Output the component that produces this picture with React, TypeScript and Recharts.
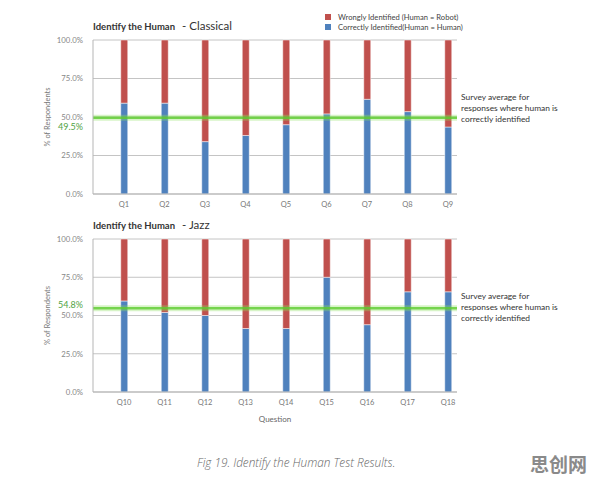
import React from "react";
import { BarChart, Bar, XAxis, YAxis, CartesianGrid, ReferenceLine } from "recharts";

const classicalQuestions = ["Q1", "Q2", "Q3", "Q4", "Q5", "Q6", "Q7", "Q8", "Q9"];
const classicalCorrect = [59, 59, 34, 38, 45, 52, 61.5, 53.5, 43.5];
const classicalAverage = 49.5;

const jazzQuestions = ["Q10", "Q11", "Q12", "Q13", "Q14", "Q15", "Q16", "Q17", "Q18"];
const jazzCorrect = [59.5, 52, 50, 41.5, 41.5, 75, 44, 65.5, 65.5];
const jazzAverage = 54.8;

const yTicks = [0, 25, 50, 75, 100];
const legendItems = [
  { label: "Wrongly Identified (Human = Robot)", color: "#c0504d" },
  { label: "Correctly Identified(Human = Human)", color: "#4f81bd" },
];
const annotationLines = ["Survey average for", "responses where human is", "correctly identified"];

const FONT = "Lato, 'Open Sans', sans-serif";
const BLUE = "#4f81bd";
const RED = "#c0504d";

function buildRows(questions: string[], correct: number[]) {
  return questions.map((q, i) => ({ idx: i, q, correct: correct[i], wrong: 100 - correct[i] }));
}

type PanelProps = {
  top: number;
  subtitle: string;
  questions: string[];
  correct: number[];
  average: number;
  avgDy: number;
  showLegend?: boolean;
  showXLabel?: boolean;
};

function Panel({ top, subtitle, questions, correct, average, avgDy, showLegend, showXLabel }: PanelProps) {
  const rows = buildRows(questions, correct);
  const xHeight = showXLabel ? 34 : 21;
  const plotH = showXLabel ? 153 : 154;
  const height = 40 + plotH + xHeight;

  const avgLabel = (props: any) => {
    const vb = props.viewBox || {};
    return (
      <text
        x={vb.x - 10}
        y={vb.y + avgDy}
        textAnchor="end"
        dominantBaseline="central"
        fill="#4fa343"
        fontSize={9}
        fontFamily={FONT}
      >
        {average.toFixed(1)}%
      </text>
    );
  };

  return (
    <div style={{ position: "absolute", left: 0, top, width: 596, height }}>
      <BarChart
        width={596}
        height={height}
        data={rows}
        margin={{ top: 40, right: 139, left: 33, bottom: 0 }}
        style={{ fontFamily: FONT }}
      >
        <CartesianGrid vertical={false} stroke="#c4c4c4" />
        <XAxis
          type="number"
          dataKey="idx"
          domain={[-0.7655, 8.222]}
          ticks={[0, 1, 2, 3, 4, 5, 6, 7, 8]}
          allowDataOverflow
          tickFormatter={(i: number) => questions[i]}
          tickLine={false}
          tickSize={0}
          tickMargin={8}
          axisLine={{ stroke: "#b5b5b5" }}
          tick={{ fontSize: 7.5, fill: "#777" }}
          height={xHeight}
          label={
            showXLabel
              ? { value: "Question", position: "insideBottom", offset: 4, fontSize: 8, fill: "#666" }
              : undefined
          }
        />
        <YAxis
          domain={[0, 100]}
          ticks={yTicks}
          tickFormatter={(v: number) => v.toFixed(1) + "%"}
          width={60}
          tickLine={false}
          tickSize={0}
          tickMargin={10}
          axisLine={{ stroke: "#b5b5b5" }}
          tick={{ fontSize: 7.8, fill: "#888" }}
          label={{
            value: "% of Respondents",
            angle: -90,
            position: "insideLeft",
            offset: 14,
            fontSize: 7.5,
            fill: "#777",
            style: { textAnchor: "middle" },
          }}
        />
        <Bar dataKey="correct" stackId="a" fill={BLUE} barSize={7} stroke="#fff" strokeWidth={0.5} isAnimationActive={false} />
        <Bar dataKey="wrong" stackId="a" fill={RED} barSize={7} stroke="#fff" strokeWidth={0.5} isAnimationActive={false} />
        <ReferenceLine y={average} stroke="#8be05e" strokeWidth={6} strokeOpacity={0.35} />
        <ReferenceLine y={average} stroke="#5ccc2e" strokeWidth={2.5} strokeOpacity={0.8} label={avgLabel} />
      </BarChart>

      <div
        style={{
          position: "absolute",
          left: 93,
          top: 17,
          fontFamily: FONT,
          color: "#333",
          whiteSpace: "nowrap",
          lineHeight: "14px",
        }}
      >
        <span style={{ fontSize: 9.5, fontWeight: 700 }}>Identify the Human</span>
        <span style={{ fontSize: 11.5, marginLeft: 7 }}>- {subtitle}</span>
      </div>

      {showLegend && (
        <div style={{ position: "absolute", left: 325, top: 12, fontFamily: FONT, fontSize: 7.6, color: "#444" }}>
          {legendItems.map((it) => (
            <div key={it.label} style={{ display: "flex", alignItems: "center", height: 10, whiteSpace: "nowrap" }}>
              <span style={{ width: 6, height: 6, background: it.color, marginRight: 7, display: "inline-block" }} />
              {it.label}
            </div>
          ))}
        </div>
      )}

      <div
        style={{
          position: "absolute",
          left: 461,
          top: 92,
          fontFamily: FONT,
          fontSize: 8.4,
          lineHeight: "11.2px",
          color: "#333",
          whiteSpace: "nowrap",
        }}
      >
        {annotationLines.map((l) => (
          <div key={l}>{l}</div>
        ))}
      </div>
    </div>
  );
}

export default function App() {
  return (
    <div style={{ position: "absolute", left: 0, top: 0, width: 596, height: 478, background: "#fff", overflow: "hidden" }}>
      <Panel
        top={0}
        subtitle="Classical"
        questions={classicalQuestions}
        correct={classicalCorrect}
        average={classicalAverage}
        avgDy={9}
        showLegend
      />
      <Panel
        top={199}
        subtitle="Jazz"
        questions={jazzQuestions}
        correct={jazzCorrect}
        average={jazzAverage}
        avgDy={-4}
        showXLabel
      />
      <div
        style={{
          position: "absolute",
          left: 197,
          top: 454,
          fontFamily: "'Open Sans', sans-serif",
          fontStyle: "italic",
          fontWeight: 300,
          fontSize: 11.8,
          color: "#666",
          whiteSpace: "nowrap",
        }}
      >
        Fig 19. Identify the Human Test Results.
      </div>
      <div
        style={{
          position: "absolute",
          left: 530,
          top: 450,
          fontFamily: "'Noto Sans CJK SC', sans-serif",
          fontWeight: 700,
          fontSize: 19,
          color: "#8a8a8a",
          whiteSpace: "nowrap",
        }}
      >
        思创网
      </div>
    </div>
  );
}
